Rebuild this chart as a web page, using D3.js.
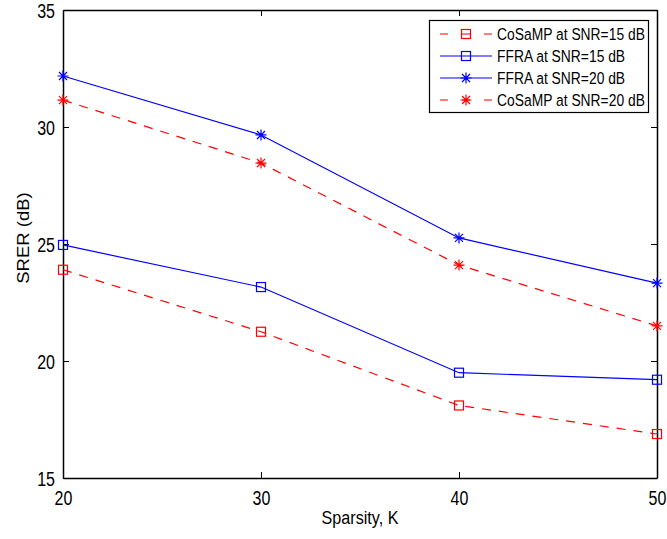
<!DOCTYPE html>
<html>
<head>
<meta charset="utf-8">
<script src="https://cdn.jsdelivr.net/npm/d3@7"></script>
<style>
  body { margin: 0; background: #fff; }
  text { font-family: "Liberation Sans", Arial, Helvetica, sans-serif; fill: #000; }
</style>
</head>
<body>
<div id="chart"></div>
<script>
// data
let sparsity = [20, 30, 40, 50];
let cosamp15 = [23.9, 21.25, 18.1, 16.88];
let ffra15 = [24.96, 23.16, 19.5, 19.2];
let ffra20 = [32.18, 29.66, 25.26, 23.33];
let cosamp20 = [31.15, 28.46, 24.1, 21.5];
let xTicks = [20, 30, 40, 50];
let yTicks = [15, 20, 25, 30, 35];

let series = [
  {name: "CoSaMP at SNR=15 dB", values: cosamp15, color: "#ff0000", dash: true, marker: "square"},
  {name: "FFRA at SNR=15 dB", values: ffra15, color: "#0000ff", dash: false, marker: "square"},
  {name: "FFRA at SNR=20 dB", values: ffra20, color: "#0000ff", dash: false, marker: "star"},
  {name: "CoSaMP at SNR=20 dB", values: cosamp20, color: "#ff0000", dash: true, marker: "star"}
];

let svgWidth = 667;
let svgHeight = 539;
let margin = {top: 10, right: 10, bottom: 61, left: 63};
let width = 657 - margin.left;
let height = 478 - margin.top;
let SX = 0.8; // text in the figure is squeezed horizontally

let svg = d3.select("#chart")
  .append("svg")
  .attr("width", svgWidth)
  .attr("height", svgHeight);

let chartGroup = svg.append("g")
  .attr("transform", `translate(${margin.left}, ${margin.top})`);

let x = d3.scaleLinear().domain([20, 50]).range([0, width]);
let y = d3.scaleLinear().domain([15, 35]).range([height, 0]);

// axes, ticks pointing in (matlab box)
let bottomAxis = d3.axisBottom(x).tickValues(xTicks).tickSizeInner(-6).tickSizeOuter(0);
let leftAxis = d3.axisLeft(y).tickValues(yTicks).tickSizeInner(-6).tickSizeOuter(0);
let topAxis = d3.axisTop(x).tickValues(xTicks).tickSizeInner(-6).tickSizeOuter(0).tickFormat("");
let rightAxis = d3.axisRight(y).tickValues(yTicks).tickSizeInner(-6).tickSizeOuter(0).tickFormat("");

let gx = chartGroup.append("g").attr("transform", `translate(0, ${height})`).call(bottomAxis);
let gy = chartGroup.append("g").call(leftAxis);
let gt = chartGroup.append("g").call(topAxis);
let gr = chartGroup.append("g").attr("transform", `translate(${width}, 0)`).call(rightAxis);

[gx, gy, gt, gr].forEach(g => {
  g.select(".domain").attr("stroke", "#000").attr("stroke-width", 1.5);
  g.selectAll(".tick line").attr("stroke", "#000").attr("stroke-width", 1);
});

gx.selectAll(".tick text")
  .attr("y", 0).attr("dy", null)
  .attr("font-size", 20)
  .style("font-family", '"Liberation Sans", Arial, sans-serif')
  .attr("transform", `translate(0, 27) scale(${SX}, 1)`);

gy.selectAll(".tick text")
  .attr("x", 0).attr("dy", "0.36em")
  .attr("font-size", 20)
  .style("font-family", '"Liberation Sans", Arial, sans-serif')
  .attr("transform", `translate(-8, 0) scale(${SX}, 1)`);

// lines
let line = d3.line()
  .x((d, i) => x(sparsity[i]))
  .y(d => y(d));

series.forEach(s => {
  chartGroup.append("path")
    .datum(s.values)
    .attr("d", line)
    .attr("fill", "none")
    .attr("stroke", s.color)
    .attr("stroke-width", 1.2)
    .attr("stroke-dasharray", s.dash ? "9,8" : null);
});

function drawMarker(g, kind, cx, cy, color) {
  if (kind == "square") {
    g.append("rect")
      .attr("x", cx - 4.5).attr("y", cy - 4.5)
      .attr("width", 9).attr("height", 9)
      .attr("fill", "none")
      .attr("stroke", color)
      .attr("stroke-width", 1.2);
  } else {
    let r = 5.5, d = 4;
    let p = `M${cx - r},${cy}L${cx + r},${cy}M${cx},${cy - r}L${cx},${cy + r}` +
      `M${cx - d},${cy - d}L${cx + d},${cy + d}M${cx - d},${cy + d}L${cx + d},${cy - d}`;
    g.append("path").attr("d", p).attr("stroke", color).attr("stroke-width", 1.2).attr("fill", "none");
  }
}

series.forEach(s => {
  s.values.forEach((v, i) => drawMarker(chartGroup, s.marker, x(sparsity[i]), y(v), s.color));
});

// axis labels
svg.append("text")
  .attr("transform", `translate(360, 524) scale(0.85, 1)`)
  .attr("text-anchor", "middle")
  .attr("font-size", 19)
  .text("Sparsity, K");

svg.append("text")
  .attr("transform", `translate(29, 238) scale(0.85, 1) rotate(-90)`)
  .attr("text-anchor", "middle")
  .attr("font-size", 18.5)
  .text("SRER (dB)");

// legend
let legend = svg.append("g");
legend.append("rect")
  .attr("x", 429.5).attr("y", 20.5)
  .attr("width", 219).attr("height", 92)
  .attr("fill", "#fff")
  .attr("stroke", "#000")
  .attr("stroke-width", 1.2);

series.forEach((s, i) => {
  let ly = 34 + i * 22;
  legend.append("line")
    .attr("x1", 440).attr("x2", 492)
    .attr("y1", ly).attr("y2", ly)
    .attr("stroke", s.color)
    .attr("stroke-width", 1.2)
    .attr("stroke-dasharray", s.dash ? "8,14" : null);
  drawMarker(legend, s.marker, 466, ly, s.color);
  legend.append("text")
    .attr("transform", `translate(497, ${ly + 6}) scale(0.84, 1)`)
    .attr("font-size", 16.5)
    .text(s.name);
});
</script>
</body>
</html>
